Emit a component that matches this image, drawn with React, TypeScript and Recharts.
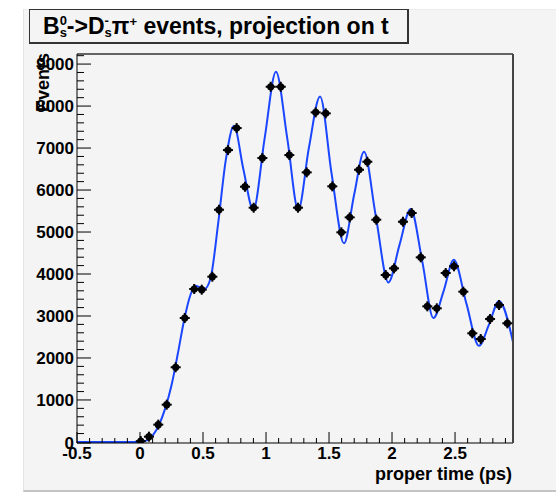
import { ComposedChart, Line, Scatter, XAxis, YAxis } from "recharts";

// measured bins (proper time in ps, events per bin)
const BIN_T = [
  0.006, 0.071, 0.145, 0.212, 0.283, 0.355, 0.43, 0.49, 0.574, 0.627, 0.698,
  0.767, 0.833, 0.902, 0.971, 1.037, 1.117, 1.185, 1.254, 1.323, 1.394, 1.474,
  1.526, 1.598, 1.664, 1.738, 1.804, 1.875, 1.95, 2.016, 2.087, 2.156, 2.228,
  2.28, 2.355, 2.426, 2.492, 2.566, 2.637, 2.704, 2.778, 2.849, 2.915,
];
const BIN_N = [
  20, 126, 412, 888, 1779, 2952, 3643, 3626, 3936, 5531, 6952, 7476, 6079,
  5579, 6762, 8460, 8460, 6833, 5579, 6421, 7850, 7826, 6088, 4993, 5349, 6483,
  6674, 5293, 3976, 4135, 5245, 5452, 4397, 3230, 3183, 4024, 4183, 3579, 2588,
  2452, 2929, 3262, 2826,
];

// fit projection
const FIT_T = [
  -0.5, 0.0, 0.05, 0.1, 0.15, 0.2, 0.25, 0.3, 0.35, 0.4, 0.44, 0.51, 0.56,
  0.62, 0.68, 0.746, 0.82, 0.899, 0.99, 1.079, 1.17, 1.256, 1.34, 1.429, 1.52,
  1.619, 1.7, 1.778, 1.87, 1.971, 2.06, 2.148, 2.24, 2.328, 2.41, 2.49, 2.59,
  2.69, 2.77, 2.849, 2.96,
];
const FIT_N = [
  0, 0, 30, 150, 400, 800, 1350, 2100, 2900, 3500, 3720, 3640, 3900, 5200,
  6700, 7530, 6500, 5530, 7250, 8820, 7200, 5530, 7000, 8230, 6400, 4730, 5900,
  6910, 5400, 3800, 4700, 5550, 4300, 2950, 3600, 4340, 3300, 2290, 2800, 3360,
  2380,
];

const X_LABELS = [-0.5, 0, 0.5, 1, 1.5, 2, 2.5];
const Y_LABELS = [0, 1000, 2000, 3000, 4000, 5000, 6000, 7000, 8000, 9000];

const X_MIN = -0.5;
const X_MAX = 2.96;
const Y_MIN = -25; // keeps the zero line of the fit just above the frame
const Y_MAX = 9240;

const xTicks: number[] = [];
for (let i = 0; i <= 34; i++) xTicks.push(Math.round((X_MIN + i * 0.1) * 10) / 10);
const yTicks: number[] = [];
for (let v = 0; v <= 9200; v += 200) yTicks.push(v);

const fitData = FIT_T.map((t, i) => ({ t, fit: FIT_N[i] }));
const binData = BIN_T.map((t, i) => ({ t, n: BIN_N[i] }));

const FONT = '"Liberation Sans", Arial, Helvetica, sans-serif';

const XTick = (props: any) => {
  const { x, y, payload } = props;
  const v = payload.value;
  const major = X_LABELS.some((m) => Math.abs(m - v) < 1e-6);
  return (
    <g>
      <line x1={x} x2={x} y1={y} y2={y - (major ? 11 : 5)} stroke="#000" />
      {major && (
        <text
          x={x}
          y={y + 16}
          textAnchor="middle"
          fontFamily={FONT}
          fontWeight="bold"
          fontSize={17}
          fill="#000"
        >
          {String(v)}
        </text>
      )}
    </g>
  );
};

const YTick = (props: any) => {
  const { x, y, payload } = props;
  const v = payload.value;
  const major = Y_LABELS.includes(v);
  const yy = v === 0 ? y + 1 : y;
  return (
    <g>
      <line x1={x} x2={x + (major ? 14 : 7)} y1={yy} y2={yy} stroke="#000" />
      {major && (
        <text
          x={x - 3}
          y={yy + 6}
          textAnchor="end"
          fontFamily={FONT}
          fontWeight="bold"
          fontSize={17}
          fill="#000"
        >
          {String(v)}
        </text>
      )}
    </g>
  );
};

const BinMarker = (props: any) => {
  const { cx, cy } = props;
  if (cx == null || cy == null) return null;
  return (
    <g>
      <line x1={cx - 5} x2={cx + 5} y1={cy} y2={cy} stroke="#000" strokeWidth={2} />
      <line x1={cx} x2={cx} y1={cy - 5} y2={cy + 5} stroke="#000" strokeWidth={2} />
      <circle cx={cx} cy={cy} r={3.6} fill="#000" />
    </g>
  );
};

const subStack = {
  display: "inline-flex",
  flexDirection: "column" as const,
  fontSize: 13,
  lineHeight: "12px",
  marginTop: 2,
};

export default function App() {
  return (
    <div
      style={{
        position: "absolute",
        left: 0,
        top: 0,
        width: 556,
        height: 492,
        background: "#fff",
        fontFamily: FONT,
        overflow: "hidden",
      }}
    >
      {/* canvas panel */}
      <div
        style={{
          position: "absolute",
          left: 23,
          top: 9,
          width: 533,
          height: 480,
          background: "#f4f4f4",
          borderLeft: "1px solid #e4e4e4",
          borderTop: "1px solid #ececec",
          borderBottom: "2px solid #c4c4c4",
        }}
      />

      <div style={{ position: "absolute", left: 0, top: 0 }}>
        <ComposedChart
          width={556}
          height={492}
          margin={{ top: 53, right: 42, bottom: 48, left: 76 }}
        >
          <XAxis
            dataKey="t"
            type="number"
            domain={[X_MIN, X_MAX]}
            allowDataOverflow
            ticks={xTicks}
            interval={0}
            tick={<XTick />}
            tickLine={false}
            tickSize={0}
            tickMargin={0}
            height={1}
            axisLine={{ stroke: "#000", strokeWidth: 1 }}
          />
          <XAxis
            xAxisId="top"
            orientation="top"
            type="number"
            domain={[X_MIN, X_MAX]}
            allowDataOverflow
            tick={false}
            tickLine={false}
            height={1}
            axisLine={{ stroke: "#333", strokeWidth: 1.5 }}
          />
          <YAxis
            type="number"
            domain={[Y_MIN, Y_MAX]}
            allowDataOverflow
            ticks={yTicks}
            interval={0}
            tick={<YTick />}
            tickLine={false}
            tickSize={0}
            tickMargin={0}
            width={1}
            axisLine={{ stroke: "#000", strokeWidth: 1 }}
          />
          <YAxis
            yAxisId="right"
            orientation="right"
            type="number"
            domain={[Y_MIN, Y_MAX]}
            allowDataOverflow
            tick={false}
            tickLine={false}
            width={1}
            axisLine={{ stroke: "#444", strokeWidth: 2 }}
          />
          <Line
            data={fitData}
            dataKey="fit"
            type="monotone"
            stroke="#1a46ff"
            strokeWidth={2}
            dot={false}
            activeDot={false}
            isAnimationActive={false}
          />
          <Scatter
            data={binData}
            dataKey="n"
            shape={<BinMarker />}
            isAnimationActive={false}
          />
        </ComposedChart>
      </div>

      {/* axis titles */}
      <svg
        width={556}
        height={492}
        style={{ position: "absolute", left: 0, top: 0, pointerEvents: "none" }}
      >
        <text
          transform="translate(49,53) rotate(-90)"
          textAnchor="end"
          fontFamily={FONT}
          fontWeight="bold"
          fontSize={18}
          fill="#000"
        >
          Events
        </text>
        <text
          x={512}
          y={480}
          textAnchor="end"
          fontFamily={FONT}
          fontWeight="bold"
          fontSize={18}
          fill="#000"
        >
          proper time (ps)
        </text>
      </svg>

      {/* title box */}
      <div
        style={{
          position: "absolute",
          left: 29,
          top: 9,
          width: 380,
          height: 35,
          background: "#f4f4f4",
          borderLeft: "1px solid #333",
          borderTop: "1px solid #333",
          borderRight: "2px solid #333",
          borderBottom: "2px solid #333",
          display: "flex",
          alignItems: "center",
          paddingLeft: 13,
          boxSizing: "border-box",
          fontWeight: "bold",
          fontSize: 23,
          color: "#000",
          whiteSpace: "nowrap",
        }}
      >
        <span>B</span>
        <span style={subStack}>
          <span>0</span>
          <span>s</span>
        </span>
        <span>-&gt;D</span>
        <span style={subStack}>
          <span>-</span>
          <span>s</span>
        </span>
        <span>π</span>
        <span style={{ fontSize: 13, alignSelf: "flex-start", marginTop: 4 }}>+</span>
        <span>&nbsp;events, projection on t</span>
      </div>
    </div>
  );
}
